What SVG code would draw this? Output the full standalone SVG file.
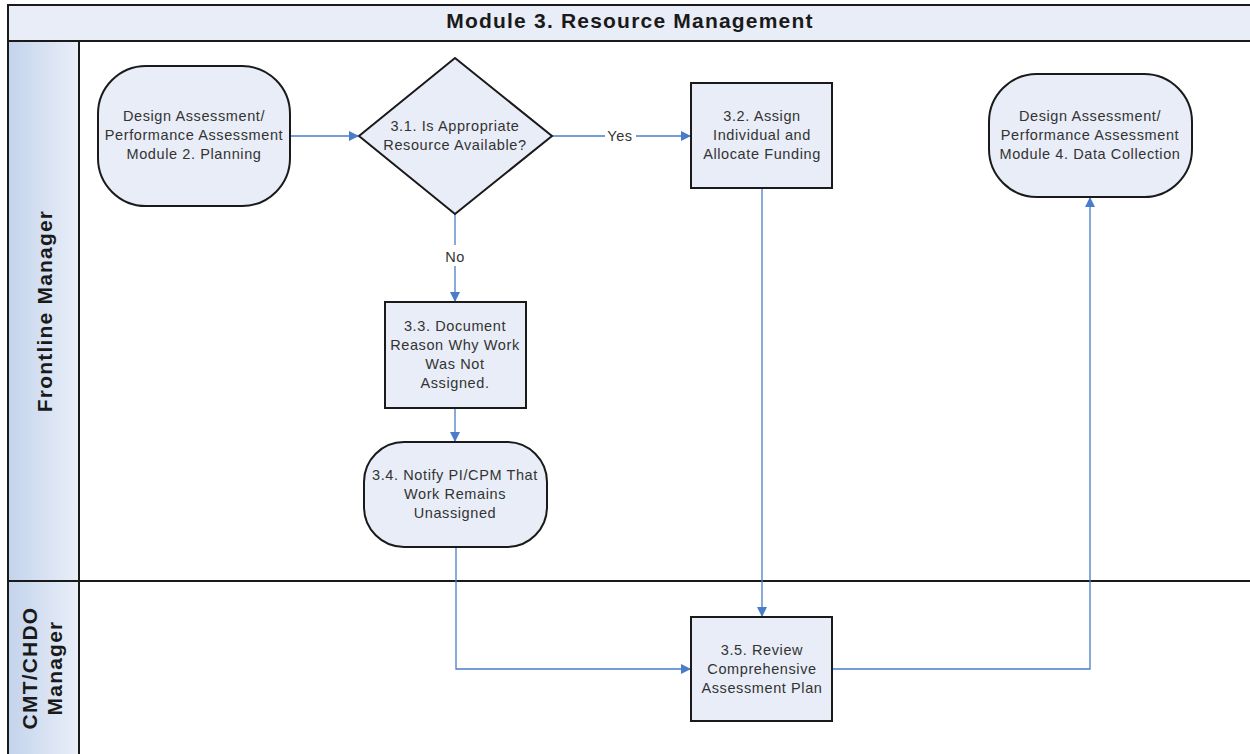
<svg xmlns="http://www.w3.org/2000/svg" width="1250" height="754" viewBox="0 0 1250 754">
<defs>
<linearGradient id="lane" x1="0" y1="0" x2="1" y2="0">
<stop offset="0" stop-color="#c3d3ec"/>
<stop offset="1" stop-color="#eaeff8"/>
</linearGradient>
<marker id="arr" markerWidth="10" markerHeight="10" refX="9" refY="5" orient="auto" markerUnits="userSpaceOnUse">
<path d="M0,0 L10,5 L0,10 z" fill="#4a7cc9"/>
</marker>
</defs>
<style>
.shape{fill:#e8edf7;stroke:#1a1a1a;stroke-width:2}
.t{font-family:"Liberation Sans",Arial,sans-serif;font-size:14.5px;letter-spacing:0.6px;fill:#333;text-anchor:middle}
.lt{font-family:"Liberation Sans",Arial,sans-serif;font-size:21px;letter-spacing:1.2px;font-weight:bold;fill:#1a1a1a;text-anchor:middle}
.c{fill:none;stroke:#4a7cc9;stroke-width:1.3}
.frame{stroke:#1a1a1a;stroke-width:2}
</style>
<rect width="1250" height="754" fill="#fff"/>
<g id="pool">
<rect x="8" y="5" width="1250" height="36" fill="#e8edf7" class="frame"/>
<text x="630" y="28" class="lt">Module 3. Resource Management</text>
<rect x="8" y="41" width="71" height="720" fill="url(#lane)" class="frame"/>
<line x1="8" y1="41" x2="1258" y2="41" class="frame"/>
<line x1="8" y1="581" x2="1258" y2="581" class="frame"/>
</g>
<g id="lane-frontline">
<text transform="translate(52,311) rotate(-90)" class="lt">Frontline Manager</text>
</g>
<g id="lane-cmt">
<text transform="translate(37,668) rotate(-90)" class="lt"><tspan x="0" y="0">CMT/CHDO</tspan><tspan x="0" y="25">Manager</tspan></text>
</g>
<g id="connectors">
<line x1="290" y1="136" x2="358" y2="136" class="c" marker-end="url(#arr)"/>
<line x1="552" y1="136" x2="605" y2="136" class="c"/>
<line x1="636" y1="136" x2="690" y2="136" class="c" marker-end="url(#arr)"/>
<text x="620" y="141" class="t">Yes</text>
<line x1="455" y1="214" x2="455" y2="245" class="c"/>
<line x1="455" y1="266" x2="455" y2="301" class="c" marker-end="url(#arr)"/>
<text x="455" y="262" class="t">No</text>
<line x1="455" y1="408" x2="455" y2="441" class="c" marker-end="url(#arr)"/>
<polyline points="456,547 456,669 690,669" class="c" marker-end="url(#arr)"/>
<line x1="762" y1="188" x2="762" y2="616" class="c" marker-end="url(#arr)"/>
<polyline points="832,669 1090,669 1090,198" class="c" marker-end="url(#arr)"/>
</g>
<g id="start">
<rect x="98" y="66" width="192" height="140" rx="48" ry="48" class="shape"/>
<text class="t"><tspan x="194" y="121">Design Assessment/</tspan><tspan x="194" y="140">Performance Assessment</tspan><tspan x="194" y="159">Module 2. Planning</tspan></text>
</g>
<g id="d31">
<polygon points="455,58 552,136 455,214 359,136" class="shape"/>
<text class="t"><tspan x="455" y="131">3.1. Is Appropriate</tspan><tspan x="455" y="150">Resource Available?</tspan></text>
</g>
<g id="p32">
<rect x="691" y="83" width="141" height="105" class="shape"/>
<text class="t"><tspan x="762" y="121">3.2. Assign</tspan><tspan x="762" y="140">Individual and</tspan><tspan x="762" y="159">Allocate Funding</tspan></text>
</g>
<g id="end">
<rect x="989" y="74" width="203" height="123" rx="48" ry="48" class="shape"/>
<text class="t"><tspan x="1090" y="121">Design Assessment/</tspan><tspan x="1090" y="140">Performance Assessment</tspan><tspan x="1090" y="159">Module 4. Data Collection</tspan></text>
</g>
<g id="p33">
<rect x="385" y="302" width="141" height="106" class="shape"/>
<text class="t"><tspan x="455" y="331">3.3. Document</tspan><tspan x="455" y="350">Reason Why Work</tspan><tspan x="455" y="369">Was Not</tspan><tspan x="455" y="388">Assigned.</tspan></text>
</g>
<g id="t34">
<rect x="364" y="442" width="183" height="105" rx="40" ry="40" class="shape"/>
<text class="t"><tspan x="455" y="480">3.4. Notify PI/CPM That</tspan><tspan x="455" y="499">Work Remains</tspan><tspan x="455" y="518">Unassigned</tspan></text>
</g>
<g id="p35">
<rect x="691" y="617" width="141" height="104" class="shape"/>
<text class="t"><tspan x="762" y="655">3.5. Review</tspan><tspan x="762" y="674">Comprehensive</tspan><tspan x="762" y="693">Assessment Plan</tspan></text>
</g>
</svg>
